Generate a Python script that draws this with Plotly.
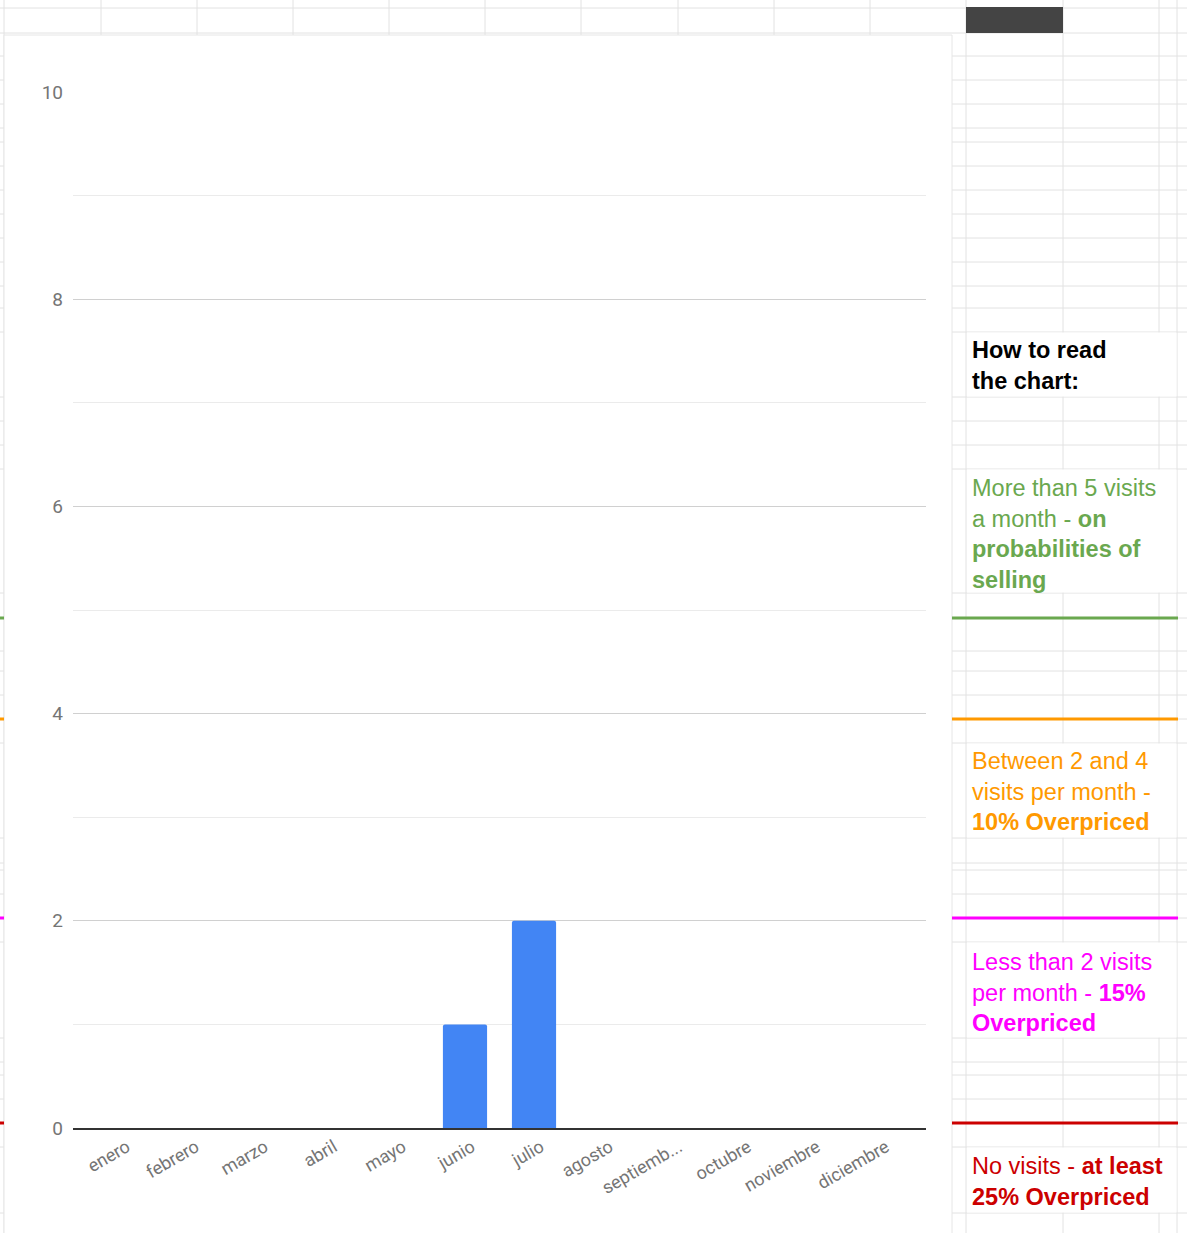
import plotly.graph_objects as go

# ---------------- data ----------------
months = ["enero", "febrero", "marzo", "abril", "mayo", "junio", "julio",
          "agosto", "septiembre", "octubre", "noviembre", "diciembre"]
month_labels = ["enero", "febrero", "marzo", "abril", "mayo", "junio", "julio",
                "agosto", "septiemb...", "octubre", "noviembre", "diciembre"]
visits = [0, 0, 0, 0, 0, 1, 2, 0, 0, 0, 0, 0]
y_ticks = [0, 2, 4, 6, 8, 10]
y_tick_labels = ["0", "2", "4", "6", "8", "10"]

# ---------------- layout constants (pixels) ----------------
W, H = 1187, 1233
col_lines = [4, 101, 197, 293, 389, 485, 581, 678, 774, 870, 966, 1063, 1159, 1177]
row_lines = [8, 33, 56, 80, 104, 128, 142, 166, 190, 214, 238, 262, 286, 308, 332,
             397, 421, 445, 469, 593, 618, 651, 671, 695, 719, 743, 838, 863, 870,
             894, 918, 942, 1038, 1062, 1075, 1099, 1123, 1147, 1213]
merged_cells = [(332, 397), (469, 593), (743, 838), (942, 1038), (1147, 1213)]


def px(x):
    return x / W


def py(y):
    return 1 - y / H


GRID = "#e2e2e2"
shapes = []
for x in col_lines:
    shapes.append(dict(type="line", xref="paper", yref="paper", x0=px(x), x1=px(x),
                       y0=0, y1=1, line=dict(color=GRID, width=1), layer="below"))
for y in row_lines:
    shapes.append(dict(type="line", xref="paper", yref="paper", x0=0, x1=1,
                       y0=py(y), y1=py(y), line=dict(color=GRID, width=1), layer="below"))
# dark header cell
shapes.append(dict(type="rect", xref="paper", yref="paper", x0=px(966), x1=px(1063),
                   y0=py(33), y1=py(7), fillcolor="#444444", line=dict(width=0), layer="below"))
# merged cells (hide inner grid lines)
for (t, b) in merged_cells:
    shapes.append(dict(type="rect", xref="paper", yref="paper", x0=px(967), x1=px(1176.5),
                       y0=py(b - 0.5), y1=py(t + 0.5), fillcolor="white",
                       line=dict(width=0), layer="below"))
# chart panel
shapes.append(dict(type="rect", xref="paper", yref="paper", x0=px(4), x1=px(952),
                   y0=py(1240), y1=py(35), fillcolor="white",
                   line=dict(color="#e6e6e6", width=1), layer="below"))
# coloured threshold borders
for yv, col in [(618, "#6aa84f"), (719, "#ff9900"), (918, "#ff00ff"), (1123, "#cc0000")]:
    shapes.append(dict(type="line", xref="paper", yref="paper", x0=px(952), x1=px(1178),
                       y0=py(yv), y1=py(yv), line=dict(color=col, width=3), layer="below"))
    shapes.append(dict(type="line", xref="paper", yref="paper", x0=0, x1=px(4),
                       y0=py(yv), y1=py(yv), line=dict(color=col, width=3), layer="below"))

TXT_FONT = "Liberation Sans, Arial, sans-serif"
FS = 23.5
notes = [
    (335, "<b>How to read<br>the chart:</b>", "#000000"),
    (473, "More than 5 visits<br>a month - <b>on</b><br><b>probabilities of</b><br><b>selling</b>", "#6aa84f"),
    (746, "Between 2 and 4<br>visits per month -<br><b>10% Overpriced</b>", "#ff9900"),
    (947, "Less than 2 visits<br>per month - <b>15%</b><br><b>Overpriced</b>", "#ff00ff"),
    (1151, "No visits - <b>at least</b><br><b>25% Overpriced</b>", "#cc0000"),
]
annotations = []
for top, txt, col in notes:
    annotations.append(dict(xref="paper", yref="paper", x=px(970), y=py(top),
                            xanchor="left", yanchor="top", align="left", showarrow=False,
                            text=txt, font=dict(family=TXT_FONT, size=FS, color=col)))

fig = go.Figure()
fig.add_trace(go.Bar(x=months, y=visits,
                     marker=dict(color="#4285f4", line=dict(width=0), cornerradius=2),
                     hoverinfo="skip"))

fig.update_layout(
    width=W, height=H, autosize=False,
    margin=dict(l=0, r=0, t=0, b=0, autoexpand=False),
    paper_bgcolor="white", plot_bgcolor="rgba(0,0,0,0)",
    showlegend=False, bargap=0.36,
    shapes=shapes, annotations=annotations,
    font=dict(family="Roboto, Arial, sans-serif", color="#757575"),
    xaxis=dict(domain=[px(73), px(926)], type="category", range=[-0.68, 11.68],
               tickmode="array", tickvals=months, ticktext=month_labels,
               tickangle=-30, tickfont=dict(size=18, color="#757575"),
               ticklabelshift=7,
               showgrid=False, showline=True, linecolor="#333333", linewidth=1.5,
               ticks="", zeroline=False, fixedrange=True, automargin=False),
    yaxis=dict(domain=[py(1128), py(92)], range=[0, 10],
               tickmode="array", tickvals=y_ticks, ticktext=y_tick_labels,
               tickfont=dict(size=19, color="#757575"), ticks="",
               ticklabelstandoff=9, automargin=False,
               showgrid=True, gridcolor="#d0d0d0", gridwidth=1,
               minor=dict(tickmode="linear", tick0=0, dtick=1, showgrid=True,
                          gridcolor="#ebebeb", gridwidth=1),
               zeroline=False, showline=False, fixedrange=True),
)

fig.write_html("out.html", config={"displayModeBar": False},
               post_script="document.body.style.margin='0';document.body.style.overflow='hidden';")
